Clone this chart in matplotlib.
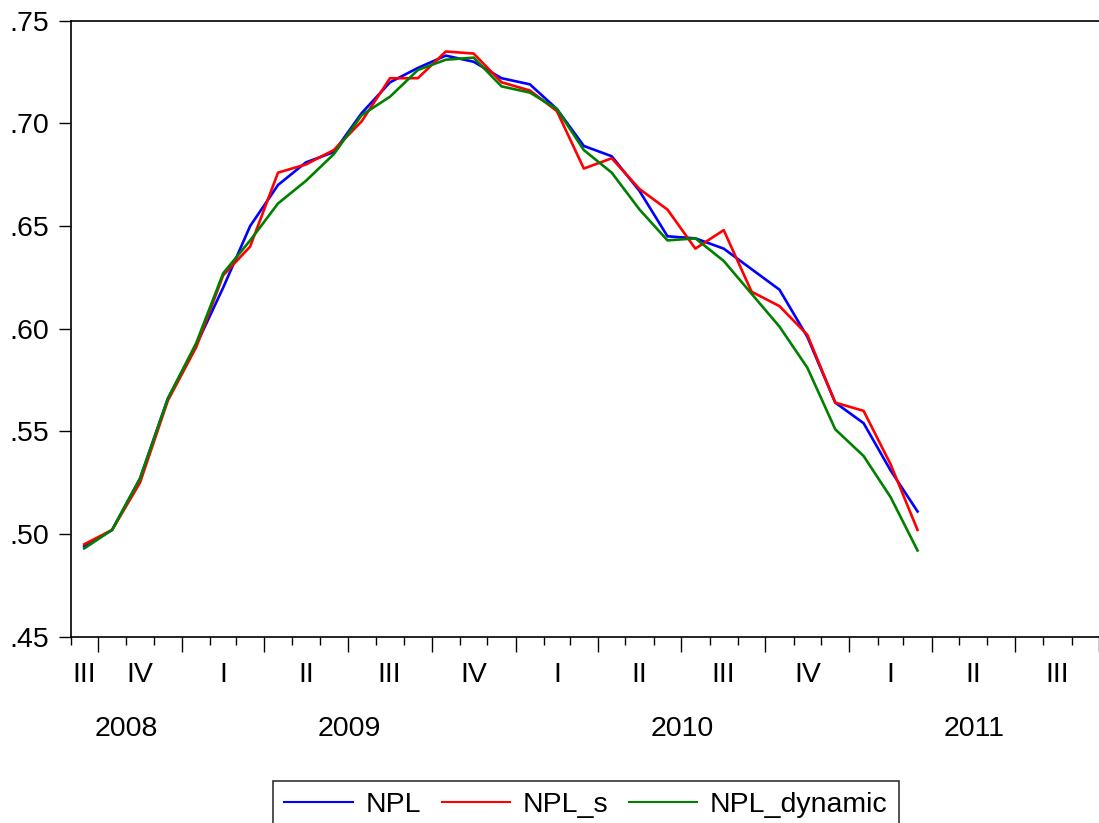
import numpy as np
import pandas as pd
import matplotlib
matplotlib.use('Agg')
import matplotlib.pyplot as plt
import matplotlib.dates as mdates
from matplotlib.ticker import FuncFormatter
from matplotlib.transforms import blended_transform_factory

# monthly observations, 2008M09 .. 2011M03
first_month = '2008-09-01'
npl = [0.494, 0.502, 0.527, 0.566, 0.592, 0.620, 0.650, 0.670, 0.681, 0.686,
       0.705, 0.720, 0.727, 0.733, 0.730, 0.722, 0.719, 0.707, 0.689, 0.684,
       0.667, 0.645, 0.644, 0.639, 0.629, 0.619, 0.596, 0.564, 0.554, 0.531,
       0.511]
npl_s = [0.495, 0.502, 0.525, 0.565, 0.591, 0.626, 0.640, 0.676, 0.680, 0.687,
         0.701, 0.722, 0.722, 0.735, 0.734, 0.720, 0.716, 0.706, 0.678, 0.683,
         0.668, 0.658, 0.639, 0.648, 0.618, 0.611, 0.597, 0.564, 0.560, 0.534,
         0.502]
npl_dynamic = [0.493, 0.502, 0.527, 0.566, 0.593, 0.627, 0.643, 0.661, 0.672,
               0.685, 0.704, 0.713, 0.726, 0.731, 0.732, 0.718, 0.715, 0.707,
               0.687, 0.676, 0.658, 0.643, 0.644, 0.633, 0.617, 0.601, 0.581,
               0.551, 0.538, 0.518, 0.492]

series_names = ['NPL', 'NPL_s', 'NPL_dynamic']
series_colors = ['#0000ff', '#ff0000', '#008000']
quarter_names = ['I', 'II', 'III', 'IV']
y_ticks = [0.45, 0.50, 0.55, 0.60, 0.65, 0.70, 0.75]
axis_start = pd.Timestamp('2008-09-01')
axis_end = pd.Timestamp('2011-10-01')

plt.rcParams['font.family'] = ['Liberation Sans', 'DejaVu Sans']
FS = 20.5


def mid(lo, hi):
    '''middle of a date span, clipped to the visible axis'''
    lo = max(lo, axis_start)
    hi = min(hi, axis_end)
    return lo + (hi - lo) / 2


def main():
    starts = pd.date_range(first_month, periods=len(npl), freq='MS')
    x = [mid(s, s + pd.offsets.MonthBegin(1)) for s in starts]

    fig = plt.figure(figsize=(10.99, 8.23), dpi=100)
    ax = fig.add_axes([70.5 / 1099, 1 - 636.7 / 823,
                       1028.5 / 1099, 616 / 823])

    for vals, name, col in zip([npl, npl_s, npl_dynamic], series_names, series_colors):
        ax.plot(x, vals, color=col, lw=1.9, label=name)

    ax.set_xlim(axis_start, axis_end)
    ax.set_ylim(y_ticks[0], y_ticks[-1])
    ax.set_yticks(y_ticks)
    ax.yaxis.set_major_formatter(FuncFormatter(lambda v, p: ('%.2f' % v)[1:]))
    ax.tick_params(axis='y', direction='out', length=8.6, width=1,
                   labelsize=FS, pad=7)

    ax.xaxis.set_major_locator(mdates.MonthLocator(bymonth=[1, 4, 7, 10]))
    ax.xaxis.set_minor_locator(mdates.MonthLocator())
    ax.xaxis.set_major_formatter(plt.NullFormatter())
    ax.tick_params(axis='x', which='major', direction='out', length=10.5, width=1)
    ax.tick_params(axis='x', which='minor', direction='out', length=5.8, width=1)

    for side in ['left', 'bottom', 'top']:
        ax.spines[side].set_linewidth(1.2)
        ax.spines[side].set_color('black')
    ax.spines['right'].set_visible(False)

    trans = blended_transform_factory(ax.transData, ax.transAxes)
    for q in pd.date_range('2008-07-01', axis_end, freq='QS'):
        if q >= axis_end:
            continue
        c = mid(q, q + pd.offsets.QuarterBegin(1, startingMonth=1))
        ax.text(mdates.date2num(c), -45 / 616, quarter_names[(q.month - 1) // 3],
                transform=trans, ha='center', va='baseline', fontsize=FS)
    for yr in range(axis_start.year, axis_end.year + 1):
        c = mid(pd.Timestamp(yr, 1, 1), pd.Timestamp(yr + 1, 1, 1))
        ax.text(mdates.date2num(c), -99 / 616, str(yr),
                transform=trans, ha='center', va='baseline', fontsize=FS)

    leg = ax.legend(loc='upper center', bbox_to_anchor=(586 / 1099, 1 - 781 / 823),
                    bbox_transform=fig.transFigure, ncol=3, fontsize=FS,
                    frameon=True, fancybox=False, edgecolor='black',
                    handlelength=2.4, handletextpad=0.45, columnspacing=0.72,
                    borderpad=0.4, borderaxespad=0)
    leg.get_frame().set_linewidth(1.2)
    for line in leg.get_lines():
        line.set_linewidth(1.5)

    fig.savefig('out.png', dpi=100)


if __name__ == '__main__':
    main()
